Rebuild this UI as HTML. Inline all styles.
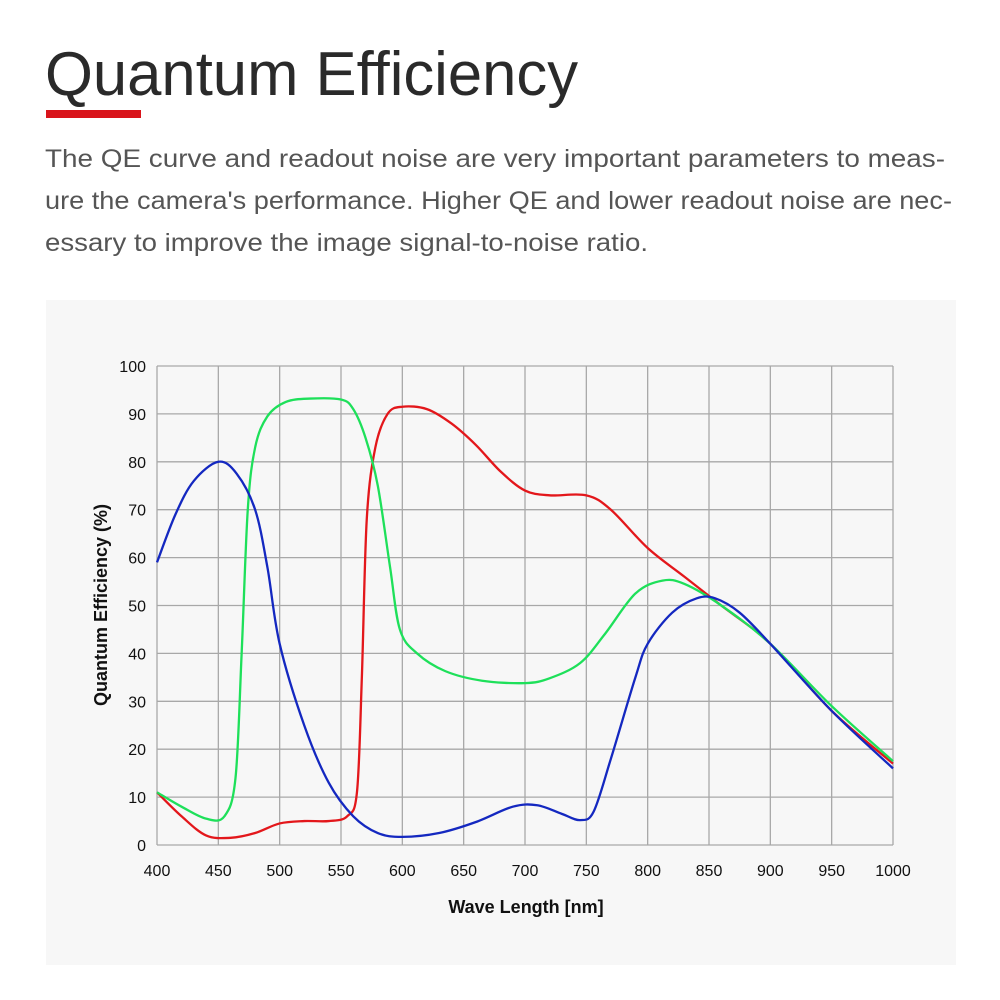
<!DOCTYPE html>
<html><head><meta charset="utf-8"><style>html,body{margin:0;padding:0;background:#fff}svg{display:block}</style></head>
<body>
<svg id="s" width="1000" height="1000" xmlns="http://www.w3.org/2000/svg" font-family="Liberation Sans, sans-serif">
<rect width="1000" height="1000" fill="#fff"/>
<text x="45" y="95" font-size="62" fill="#2a2a2a" textLength="533" lengthAdjust="spacingAndGlyphs">Quantum Efficiency</text>
<rect x="46" y="110" width="95" height="8" fill="#d9141b"/>
<g font-size="25" fill="#555">
<text x="45" y="167" textLength="900" lengthAdjust="spacingAndGlyphs">The QE curve and readout noise are very important parameters to meas-</text>
<text x="45" y="209" textLength="907" lengthAdjust="spacingAndGlyphs">ure the camera's performance. Higher QE and lower readout noise are nec-</text>
<text x="45" y="251" textLength="603" lengthAdjust="spacingAndGlyphs">essary to improve the image signal-to-noise ratio.</text>
</g>
<rect x="46" y="300" width="910" height="665" fill="#f7f7f7"/>
<g id="grid" stroke="#a8a8a8" stroke-width="1.3" fill="none"></g>
<g id="lab" font-size="16" fill="#111"></g>
<text x="526" y="913" font-size="18" font-weight="bold" text-anchor="middle" fill="#111">Wave Length [nm]</text>
<text transform="translate(107,605) rotate(-90)" font-size="18" font-weight="bold" text-anchor="middle" fill="#111">Quantum Efficiency (%)</text>
<g id="curves" fill="none" stroke-width="2.3"></g>
</svg>
<script>
const X=w=>157+(w-400)*736/600, Y=v=>845-v*4.79;
const NS="http://www.w3.org/2000/svg";
const g=document.getElementById('grid'),lab=document.getElementById('lab'),cv=document.getElementById('curves');
function el(p,t,a,txt){const e=document.createElementNS(NS,t);for(const k in a)e.setAttribute(k,a[k]);if(txt!==undefined)e.textContent=txt;p.appendChild(e);return e;}
for(let w=400;w<=1000;w+=50){el(g,'line',{x1:X(w),x2:X(w),y1:Y(0),y2:Y(100)});el(lab,'text',{x:X(w),y:876,'text-anchor':'middle'},w);}
for(let v=0;v<=100;v+=10){el(g,'line',{x1:X(400),x2:X(1000),y1:Y(v),y2:Y(v)});el(lab,'text',{x:146,y:Y(v)+6,'text-anchor':'end'},v);}
function path(pts){const P=pts.map(p=>[X(p[0]),Y(p[1])]);let d='M'+P[0][0]+','+P[0][1];
for(let i=0;i<P.length-1;i++){const p0=P[i-1]||P[i],p1=P[i],p2=P[i+1],p3=P[i+2]||p2;
d+=' C'+(p1[0]+(p2[0]-p0[0])/6)+','+(p1[1]+(p2[1]-p0[1])/6)+' '+(p2[0]-(p3[0]-p1[0])/6)+','+(p2[1]-(p3[1]-p1[1])/6)+' '+p2[0]+','+p2[1];}return d;}
const red=[[400,11],[420,6],[440,2],[460,1.5],[480,2.5],[500,4.5],[520,5],[540,5],[555,6],[563,11],[567,35],[571,68],[578,83],[588,90],[600,91.5],[620,91],[640,88],[660,83.5],[680,78],[700,74],[720,73],[750,73],[770,70],[800,62],[830,56],[860,50],[900,42],[950,28],[1000,17]];
const green=[[400,11],[420,8],[440,5.5],[455,6],[464,14],[469,40],[474,70],[480,83],[490,89.5],[505,92.5],[525,93.2],[550,93],[560,91],[570,85],[580,75],[590,58],[598,45],[612,40],[635,36.3],[665,34.3],[700,33.8],[720,34.8],[745,38],[765,44],[790,52.5],[812,55.2],[830,54.5],[860,50],[900,42],[950,29],[1000,17.5]];
const blue=[[400,59],[415,69],[430,76],[450,80],[465,77.5],[480,70],[490,58],[500,42],[520,25],[540,13],[560,6],[580,2.5],[600,1.7],[630,2.5],[660,4.8],[690,8],[710,8.3],[730,6.5],[745,5.2],[756,7],[770,18],[790,35],[800,42],[820,48.5],[840,51.5],[855,51.5],[875,48.5],[900,42],[950,28],[1000,16]];
el(cv,'path',{d:path(red),stroke:'#e3171b'});
el(cv,'path',{d:path(green),stroke:'#1ee05a'});
el(cv,'path',{d:path(blue),stroke:'#1428c0'});
</script>
</body></html>
